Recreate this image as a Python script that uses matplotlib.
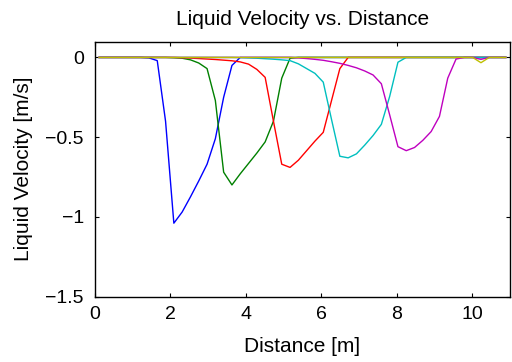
import numpy as np
import matplotlib
matplotlib.use("Agg")
import matplotlib.pyplot as plt

plt.rcParams['font.family'] = ['Liberation Sans', 'DejaVu Sans']

# cell-centre positions [m]
distance = [0.11, 0.33, 0.55, 0.77, 0.99, 1.21, 1.43, 1.65, 1.87, 2.09,
            2.31, 2.53, 2.75, 2.97, 3.19, 3.41, 3.63, 3.85, 4.07, 4.29,
            4.51, 4.73, 4.95, 5.17, 5.39, 5.61, 5.83, 6.05, 6.27, 6.49,
            6.71, 6.93, 7.15, 7.37, 7.59, 7.81, 8.03, 8.25, 8.47, 8.69,
            8.91, 9.13, 9.35, 9.57, 9.79, 10.01, 10.23, 10.45, 10.67, 10.89]

v_t1 = [0, 0, 0, 0, 0, 0, -0.003, -0.02, -0.40, -1.04,
        -0.97, -0.875, -0.775, -0.67, -0.51, -0.25, -0.05, 0, 0, 0,
        0, 0, 0, 0, 0, 0, 0, 0, 0, 0,
        0, 0, 0, 0, 0, 0, 0, 0, 0, 0,
        0, 0, 0, 0, 0, 0, 0, 0, 0, 0]

v_t2 = [0, 0, 0, 0, 0, 0, 0, 0, 0, -0.002,
        -0.005, -0.015, -0.035, -0.07, -0.27, -0.72, -0.80, -0.73, -0.665, -0.60,
        -0.53, -0.40, -0.13, -0.005, 0, 0, 0, 0, 0, 0,
        0, 0, 0, 0, 0, 0, 0, 0, 0, 0,
        0, 0, 0, 0, 0, 0, 0, 0, 0, 0]

v_t3 = [0, 0, 0, 0, 0, 0, 0, 0, 0, 0,
        -0.002, -0.004, -0.007, -0.010, -0.013, -0.017, -0.021, -0.028, -0.042, -0.075,
        -0.125, -0.40, -0.67, -0.69, -0.645, -0.585, -0.525, -0.47, -0.27, -0.07,
        0, 0, 0, 0, 0, 0, 0, 0, 0, 0,
        0, 0, 0, 0, 0, 0, 0, 0, 0, 0]

v_t4 = [0, 0, 0, 0, 0, 0, 0, 0, 0, 0,
        0, 0, 0, 0, 0, 0, 0, -0.001, -0.003, -0.005,
        -0.008, -0.011, -0.015, -0.02, -0.04, -0.07, -0.10, -0.155, -0.39, -0.62,
        -0.63, -0.605, -0.55, -0.49, -0.42, -0.245, -0.03, 0, 0, 0,
        0, 0, 0, 0, 0, 0, 0, 0, 0, 0]

v_t5 = [0, 0, 0, 0, 0, 0, 0, 0, 0, 0,
        0, 0, 0, 0, 0, 0, 0, 0, 0, 0,
        0, 0, 0, 0, -0.003, -0.007, -0.012, -0.018, -0.027, -0.037,
        -0.05, -0.065, -0.085, -0.11, -0.165, -0.36, -0.56, -0.585, -0.565, -0.52,
        -0.465, -0.37, -0.13, -0.01, 0, 0, -0.012, 0, 0, 0]

v_t6 = [0, 0, 0, 0, 0, 0, 0, 0, 0, 0,
        0, 0, 0, 0, 0, 0, 0, 0, 0, 0,
        0, 0, 0, 0, 0, 0, 0, 0, 0, 0,
        0, 0, 0, 0, 0, 0, 0, 0, 0, 0,
        0, 0, 0, 0, 0, 0, -0.033, 0, 0, 0]

series = [v_t1, v_t2, v_t3, v_t4, v_t5, v_t6]
colors = ['#0000ff', '#008000', '#ff0000', '#00bfbf', '#bf00bf', '#bfbf00']

x_ticks = [0, 2, 4, 6, 8, 10]
y_ticks = [-1.5, -1, -0.5, 0]
y_labels = ['\u22121.5', '\u22121', '\u22120.5', '0']

fig = plt.figure(figsize=(5.12, 3.62), dpi=100)
ax = fig.add_axes([95/512, 1-296.5/362, 415/512, 255/362])

for v, c in zip(series, colors):
    ax.plot(distance, v, color=c, linewidth=1.0)

ax.set_xlim(0, 11)
ax.set_ylim(-1.5, 0.1)
ax.set_xticks(x_ticks)
ax.set_xticklabels([str(t) for t in x_ticks])
ax.set_yticks(y_ticks)
ax.set_yticklabels(y_labels)
ax.tick_params(direction='in', top=True, right=True, length=3, width=0.8,
               labelsize=14)
ax.tick_params(axis='x', pad=7)
ax.tick_params(axis='y', pad=8)
for s in ax.spines.values():
    s.set_linewidth(1.0)

ax.set_title('Liquid Velocity vs. Distance', fontsize=15, pad=12)
ax.set_xlabel('Distance [m]', fontsize=15, labelpad=10)
ax.set_ylabel('Liquid Velocity [m/s]', fontsize=15, labelpad=9)

fig.savefig('out.png', dpi=100)
